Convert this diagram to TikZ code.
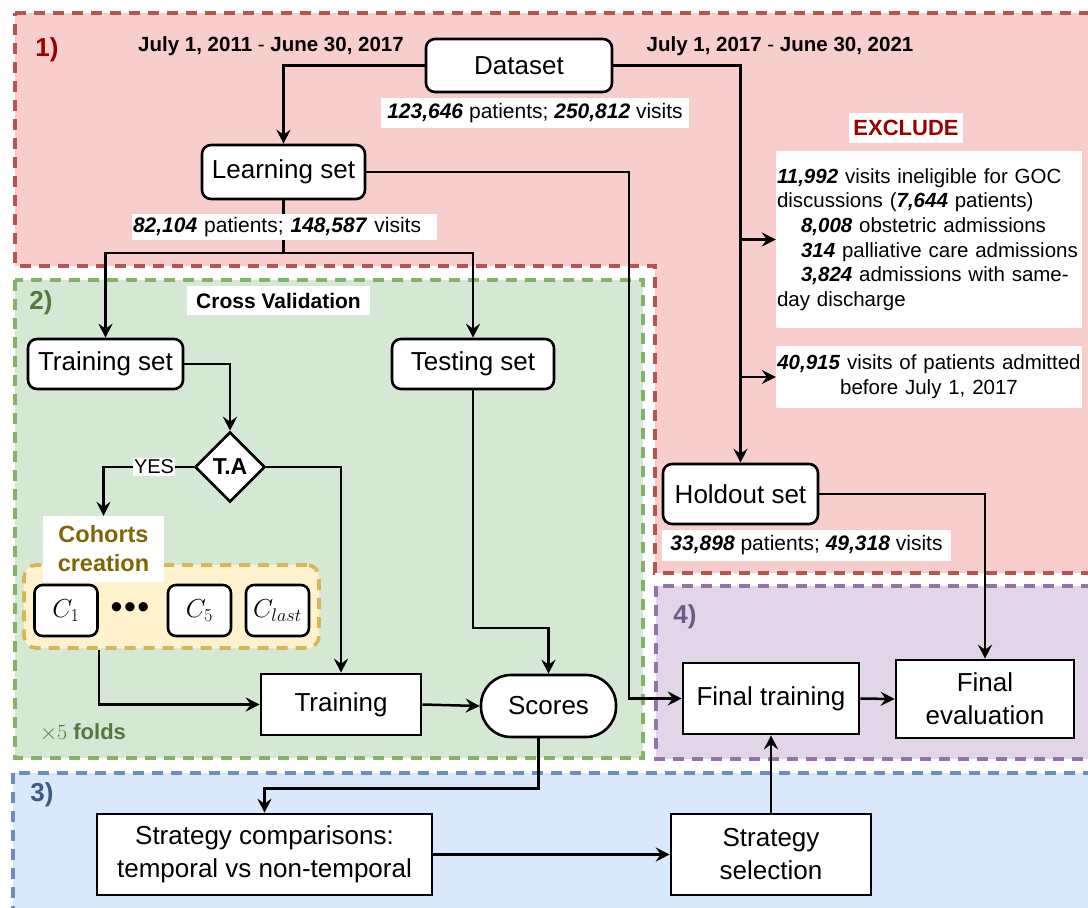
\RequirePackage{fix-cm}
\documentclass[tikz,border=0pt]{standalone}
\usepackage{fontspec}
\setmainfont{Liberation Sans}
\usetikzlibrary{arrows.meta,shapes.geometric,calc}
\definecolor{redfill}{HTML}{F8CECC}
\definecolor{redline}{HTML}{B85450}
\definecolor{greenfill}{HTML}{D5E8D4}
\definecolor{greenline}{HTML}{82B366}
\definecolor{purplefill}{HTML}{E1D5E7}
\definecolor{purpleline}{HTML}{9673A6}
\definecolor{bluefill}{HTML}{DAE8FC}
\definecolor{blueline}{HTML}{6C8EBF}
\definecolor{yelfill}{HTML}{FFF2CC}
\definecolor{yelline}{HTML}{D6B656}
\definecolor{darkred}{HTML}{990000}
\definecolor{greentxt}{HTML}{56773F}
\definecolor{bluetxt}{HTML}{415A7E}
\definecolor{purpletxt}{HTML}{6F5A87}
\definecolor{olivetxt}{HTML}{806600}
\pgfdeclarelayer{regions}
\pgfdeclarelayer{lines}
\pgfsetlayers{regions,lines,main}
\newcommand{\numbi}[1]{\textbf{\textit{#1}}}
\begin{document}
\begin{tikzpicture}[x=1pt,y=-1pt,
  conn/.style={line width=2.5pt},
  arr/.style={line width=2.5pt,-{Stealth[length=14pt,width=14pt,inset=5pt]}},
  rbox/.style={draw,line width=2.6pt,rounded corners=9pt,fill=white,inner sep=0pt,font=\fontsize{26}{31}\selectfont,align=center},
  sbox/.style={draw,line width=2.6pt,fill=white,inner sep=0pt,font=\fontsize{26}{33}\selectfont,align=center},
  lbl/.style={fill=white,inner sep=0pt,font=\fontsize{21}{25}\selectfont,align=center},
  region/.style={line width=3.6pt,dash pattern=on 11pt off 8pt},
  reglbl/.style={font=\fontsize{26}{30}\selectfont\bfseries},
  cbox/.style={draw,line width=2.6pt,rounded corners=8pt,fill=white,inner sep=0pt,minimum width=63pt,minimum height=51pt,font=\fontsize{26}{30}\selectfont}
]
\useasboundingbox (0,0) rectangle (1088,908);
\clip (0,0) rectangle (1088,908);
\begin{pgfonlayer}{regions}
\fill[white] (0,0) rectangle (1088,908);
\filldraw[region,draw=redline,fill=redfill] (15,13) -- (1100,13) -- (1100,573) -- (655,573) -- (655,266) -- (15,266) -- cycle;
\filldraw[region,draw=greenline,fill=greenfill] (15,280) rectangle (643,758);
\filldraw[region,draw=purpleline,fill=purplefill] (656,586) rectangle (1100,759);
\filldraw[region,draw=blueline,fill=bluefill] (13,773) rectangle (1100,920);
\end{pgfonlayer}

% region labels
\node[reglbl,text=darkred] (r1) at (47,50) {1)};
\node[reglbl,text=greentxt] (r2) at (41,303) {2)};
\node[reglbl,text=bluetxt] (r3) at (42,795) {3)};
\node[reglbl,text=purpletxt] (r4) at (685,617) {4)};

% dates
\node[font=\fontsize{20.5}{24}\selectfont] (d1) at (271,46) {\textbf{July 1, 2011} - \textbf{June 30, 2017}};
\node[font=\fontsize{20.5}{24}\selectfont] (d2) at (780,46) {\textbf{July 1, 2017} - \textbf{June 30, 2021}};

% main nodes
\node[rbox,minimum width=186pt,minimum height=53pt] (dataset) at (519,65.5) {Dataset};
\node[lbl,minimum width=308pt,minimum height=30pt] (ldataset) at (535,113) {\numbi{123,646} patients; \numbi{250,812} visits};
\node[rbox,minimum width=163pt,minimum height=54pt] (learning) at (283.5,172) {Learning set};
\node[lbl,text width=303pt,inner xsep=1pt,align=left,minimum height=26pt] (llearning) at (284.5,227) {\numbi{82,104} patients; \numbi{148,587} visits};

\node[font=\fontsize{22}{26}\selectfont\bfseries,text=darkred,fill=white,minimum width=114pt,minimum height=30pt,inner sep=0pt] (exclude) at (906,128) {EXCLUDE};
\node[lbl,text width=304pt,inner xsep=1pt,align=left,minimum height=177pt,font=\fontsize{20.5}{24.6}\selectfont] (excl1) at (929,239.5)
 {\numbi{11,992} visits ineligible for GOC\\
  discussions (\numbi{7,644} patients)\\
  \hspace*{24pt}\numbi{8,008} obstetric admissions\\
  \hspace*{24pt}\numbi{314} palliative care admissions\\
  \hspace*{24pt}\numbi{3,824} admissions with same-\\
  day discharge};
\node[lbl,text width=306pt,align=center,minimum height=62pt,font=\fontsize{20.5}{25}\selectfont] (excl2) at (929,377)
 {\numbi{40,915} visits of patients admitted\\before July 1, 2017};

\node[rbox,minimum width=155pt,minimum height=60pt] (holdout) at (740.5,494) {Holdout set};
\node[lbl,minimum width=289pt,minimum height=31pt] (lholdout) at (806.5,545.5) {\numbi{33,898} patients; \numbi{49,318} visits};

% cross validation
\node[lbl,font=\fontsize{21}{25}\selectfont\bfseries,minimum width=183pt,minimum height=29pt] (cv) at (278.5,300.5) {Cross Validation};
\node[rbox,minimum width=155pt,minimum height=50pt] (trainset) at (105.5,364) {Training set};
\node[rbox,minimum width=162pt,minimum height=50pt] (testset) at (473,364) {Testing set};
\node[draw,diamond,line width=2.6pt,fill=white,minimum width=70pt,minimum height=70pt,inner sep=0pt,font=\fontsize{23}{27}\selectfont\bfseries] (TA) at (230,467) {T.A};

\node[draw=yelline,fill=yelfill,line width=3.6pt,dash pattern=on 11pt off 8pt,rounded corners=12pt,minimum width=295pt,minimum height=83pt,inner sep=0pt] (cohorts) at (171.5,606.5) {};
\node[fill=white,inner sep=0pt,minimum width=121pt,minimum height=66pt,align=center,text=olivetxt,font=\fontsize{23.5}{29}\selectfont\bfseries] (cohlbl) at (103.5,549) {Cohorts\\creation};
\node[cbox] (c1) at (66,610.5) {$C_1$};
\node[font=\fontsize{34}{34}\selectfont,inner sep=0pt] (dots) at (130,610.5) {•\kern1.5pt•\kern1.5pt•};
\node[cbox] (c5) at (199.5,610.5) {$C_5$};
\node[cbox] (clast) at (277.5,610.5) {$C_{last}$};

\node[font=\fontsize{22}{26}\selectfont,text=greentxt] (folds) at (83,732) {$\times5$ \textbf{folds}};

\node[sbox,minimum width=160pt,minimum height=61pt] (train) at (341,704.5) {Training};
\node[draw,line width=2.6pt,fill=white,rounded corners=30pt,minimum width=135pt,minimum height=62pt,inner sep=0pt,font=\fontsize{26}{31}\selectfont] (scores) at (548.5,706) {Scores};

% final
\node[sbox,minimum width=176pt,minimum height=71pt] (finaltr) at (771,698.5) {Final training};
\node[sbox,minimum width=178pt,minimum height=78pt] (finaleval) at (985,699) {Final\\evaluation};

% strategy
\node[sbox,minimum width=335pt,minimum height=81pt] (stratcomp) at (264.5,854.5) {Strategy comparisons:\\temporal vs non-temporal};
\node[sbox,minimum width=200pt,minimum height=81pt] (stratsel) at (771,854.5) {Strategy\\selection};

\begin{pgfonlayer}{lines}
\draw[arr] (dataset.west) -| (learning.north);
\draw[arr] (dataset.east) -| (holdout.north);
\draw[arr] (holdout.north |- excl1.west) -- (excl1.west);
\draw[arr] (holdout.north |- excl2.west) -- (excl2.west);
\coordinate (split) at (283.5,253);
\draw[conn] (learning.south) -- (split);
\draw[arr] (split) -| (trainset.north);
\draw[arr] (split) -| (testset.north);
\coordinate (col) at (629,172);
\draw[arr] (learning.east) -- (col) |- (finaltr.west);
\draw[arr] (trainset.east) -| (TA.north);
\draw[arr] (TA.west) -| (cohlbl.north) node[pos=0.22,fill=white,inner xsep=1pt,inner ysep=2pt,font=\fontsize{20}{24}\selectfont] (yes) {YES};
\draw[arr] (TA.east) -| (train.north);
\coordinate (tk) at (473,628);
\draw[arr] (testset.south) -- (tk) -| (scores.north);
\draw[arr] (cohorts.south -| c1.east) |- (train.west);
\draw[arr] (train.east) -- (scores.west);
\draw[arr] ([xshift=-10pt]scores.south) -- ++(0,50) -| (stratcomp.north);
\draw[arr] (stratcomp.east) -- (stratsel.west);
\draw[arr] (stratsel.north) -- (finaltr.south);
\draw[arr] (finaltr.east) -- (finaleval.west);
\draw[arr] (holdout.east) -| (finaleval.north);
\end{pgfonlayer}
\end{tikzpicture}
\end{document}
